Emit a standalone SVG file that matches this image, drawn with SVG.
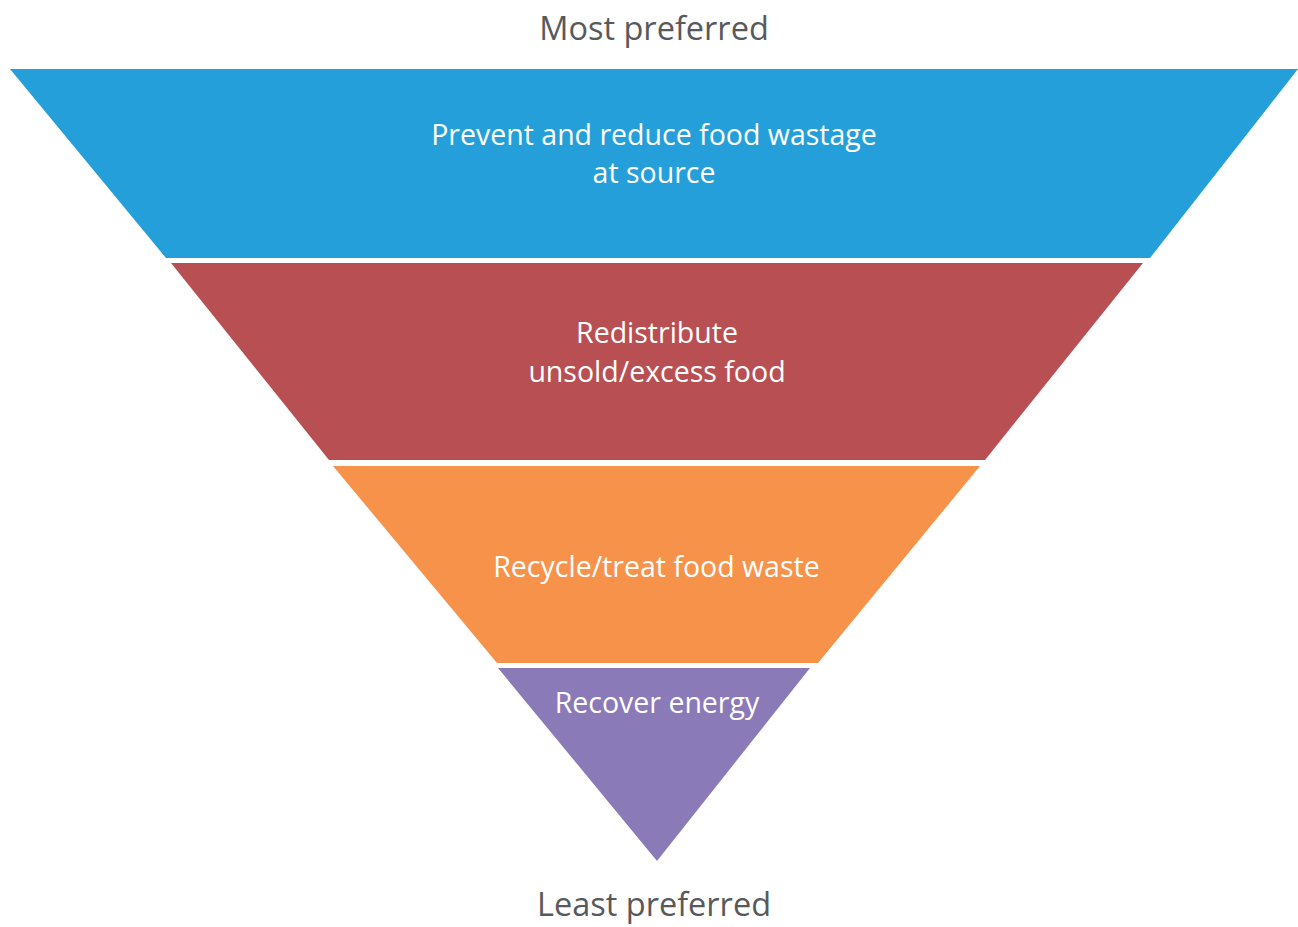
<svg xmlns="http://www.w3.org/2000/svg" width="1298" height="927" viewBox="0 0 1298 927">
  <style>
    .band-label { font-family: "Open Sans", "Noto Sans", "Liberation Sans", sans-serif; font-size: 28.5px; fill: #ffffff; text-anchor: middle; }
    .axis-label { font-family: "Open Sans", "Noto Sans", "Liberation Sans", sans-serif; font-size: 32.5px; fill: #58595b; text-anchor: middle; }
  </style>
  <rect width="1298" height="927" fill="#ffffff"/>

  <text class="axis-label" x="654" y="40">Most preferred</text>

  <g id="prevent">
    <polygon points="10,69 1298,69 1150,258 166,258" fill="#259fd9"/>
    <text class="band-label" x="654" y="145">Prevent and reduce food wastage</text>
    <text class="band-label" x="654" y="183">at source</text>
  </g>

  <g id="redistribute">
    <polygon points="171,263 1143,263 985,460 329,460" fill="#b85053"/>
    <text class="band-label" x="657" y="343">Redistribute</text>
    <text class="band-label" x="657" y="382">unsold/excess food</text>
  </g>

  <g id="recycle">
    <polygon points="333,466 980,466 818,663 497,663" fill="#f6924a"/>
    <text class="band-label" x="656.5" y="577">Recycle/treat food waste</text>
  </g>

  <g id="recover">
    <polygon points="498,668 810,668 657,861" fill="#8b7ab8"/>
    <text class="band-label" x="657" y="713">Recover energy</text>
  </g>

  <text class="axis-label" x="654" y="916">Least preferred</text>
</svg>
